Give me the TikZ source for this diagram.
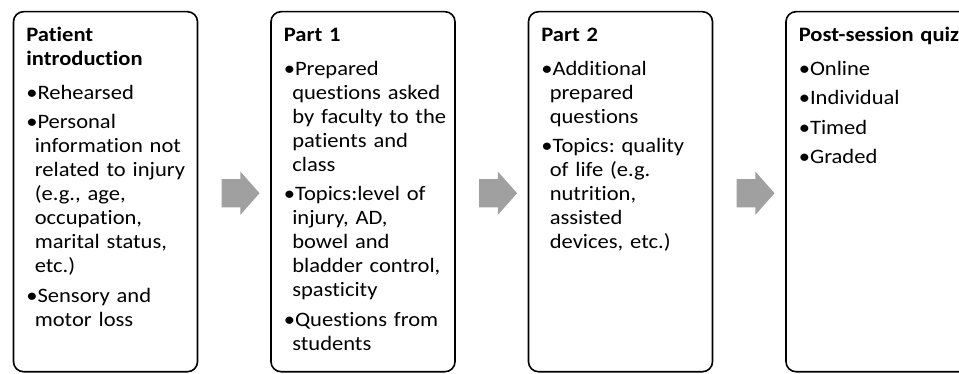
\documentclass[tikz,border=0pt]{standalone}
\usepackage{fontspec}
\setmainfont{Carlito}[FakeStretch=1.1, Ligatures=CommonOff]
\usetikzlibrary{positioning, calc, shapes.arrows}

\definecolor{arrowgrey}{RGB}{160,160,160}

% bold heading, then a little air before the first bullet
\newcommand{\stagetitle}[1]{\noindent\strut\textbf{#1}\par\vspace{10pt}}
% bullet item with its wrapped lines hung under the text
\newcommand{\stageitem}[1]{\noindent\hangindent=8.5pt\hangafter=1 •#1\par\vspace{5.3pt}}

\begin{document}
\begin{tikzpicture}[
    x=1pt, y=1pt,
    every node/.style={font=\fontsize{20.5}{24}\selectfont\frenchspacing},
    stage/.style={draw, line width=1.6pt, rounded corners=10pt,
        minimum width=184pt, minimum height=360pt, inner sep=0pt},
    stagetext/.style={inner sep=0pt, text width=220pt, align=left},
    flow/.style={single arrow, fill=arrowgrey, draw=none, inner sep=0pt,
        inner ysep=14pt, minimum width=43pt, minimum height=38pt,
        single arrow head extend=7.5pt, single arrow tip angle=97}
]
\useasboundingbox (0,0) rectangle (959,373);

% === STAGE BOXES ===

\node[stage] (intro) at (105.5,181.3) {};
\node[stage] (part1) at (363,181.3) {};
\node[stage] (part2) at (620.5,181.3) {};
\node[stage] (quiz) at (878,181.3) {};

% === BLOCK ARROWS between the stages ===

\node[flow, yshift=-1.5pt] (flow1) at ($(intro.east)!0.5!(part1.west)$) {};
\node[flow, yshift=-1.5pt] (flow2) at ($(part1.east)!0.5!(part2.west)$) {};
\node[flow, yshift=-1.5pt] (flow3) at ($(part2.east)!0.5!(quiz.west)$) {};

% === STAGE CONTENTS ===

\node[stagetext, below right=13.8pt and 13.4pt of intro.north west] (introtext) {%
    \stagetitle{Patient\newline introduction}
    \stageitem{Rehearsed}
    \stageitem{Personal\newline information not\newline related to injury\newline (e.g., age,\newline occupation,\newline marital status,\newline etc.)}
    \stageitem{Sensory and\newline motor loss}
};

\node[stagetext, below right=13.8pt and 13.4pt of part1.north west] (part1text) {%
    \stagetitle{Part 1}
    \stageitem{Prepared\newline questions asked\newline by faculty to the\newline patients and\newline class}
    \stageitem{Topics:level of\newline injury, AD,\newline bowel and\newline bladder control,\newline spasticity}
    \stageitem{Questions from\newline students}
};

\node[stagetext, below right=13.8pt and 13.4pt of part2.north west] (part2text) {%
    \stagetitle{Part 2}
    \stageitem{Additional\newline prepared\newline questions}
    \stageitem{Topics: quality\newline of life (e.g.\newline nutrition,\newline assisted\newline devices, etc.)}
};

\node[stagetext, below right=13.8pt and 13.4pt of quiz.north west] (quiztext) {%
    \stagetitle{Post-session quiz}
    \stageitem{Online}
    \stageitem{Individual}
    \stageitem{Timed}
    \stageitem{Graded}
};

\end{tikzpicture}
\end{document}
